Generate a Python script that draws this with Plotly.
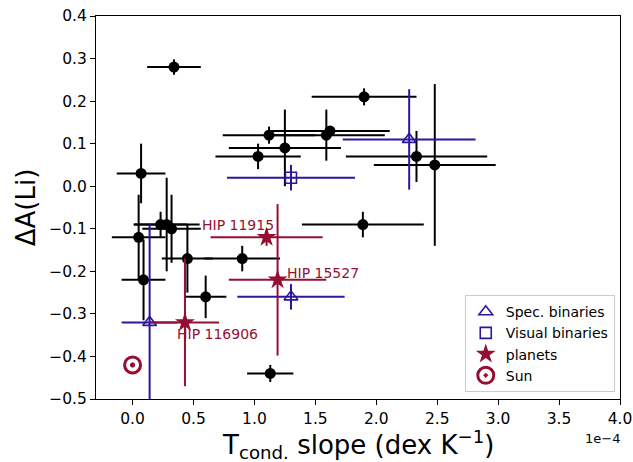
import plotly.graph_objects as go

# Condensation-temperature slopes in units of 1e-4 dex/K, lithium differences in dex
field_slope = [0.34, 0.07, 1.12, 1.25, 1.03, 1.59, 1.62, 1.90, 2.33, 2.48, 1.89,
               0.05, 0.09, 0.23, 0.28, 0.32, 0.45, 0.90, 0.60, 1.13]
field_slope_err = [0.22, 0.20, 0.38, 0.46, 0.35, 0.48, 0.49, 0.43, 0.58, 0.50, 0.50,
                   0.22, 0.18, 0.22, 0.27, 0.24, 0.21, 0.31, 0.17, 0.19]
field_dli = [0.28, 0.03, 0.12, 0.09, 0.07, 0.12, 0.13, 0.21, 0.07, 0.05, -0.09,
             -0.12, -0.22, -0.09, -0.09, -0.10, -0.17, -0.17, -0.26, -0.44]
field_dli_err = [0.018, 0.07, 0.02, 0.09, 0.03, 0.06, 0.01, 0.02, 0.06, 0.19, 0.03,
                 0.10, 0.095, 0.03, 0.11, 0.08, 0.08, 0.03, 0.05, 0.02]

sb_slope = [2.27, 1.30, 0.14]
sb_slope_err = [0.545, 0.44, 0.23]
sb_dli = [0.11, -0.26, -0.32]
sb_dli_err = [0.118, 0.03, 0.23]

vb_slope = [1.30]
vb_slope_err = [0.525]
vb_dli = [0.02]
vb_dli_err = [0.03]

planet_names = ["HIP 11915", "HIP 15527", "HIP 116906"]
planet_slope = [1.10, 1.19, 0.43]
planet_slope_err = [0.46, 0.40, 0.28]
planet_dli = [-0.12, -0.22, -0.32]
planet_dli_err = [0.02, 0.178, 0.15]

sun_slope = [0.0]
sun_dli = [-0.42]

x_ticks = [0.0, 0.5, 1.0, 1.5, 2.0, 2.5, 3.0, 3.5, 4.0]
y_ticks = [-0.5, -0.4, -0.3, -0.2, -0.1, 0.0, 0.1, 0.2, 0.3, 0.4]

BLUE = "#2c179c"
RED = "#960f32"
FONT = "DejaVu Sans"

def errs(vals, color):
    return dict(type="data", array=vals, color=color, thickness=2, width=0)

fig = go.Figure()

fig.add_trace(go.Scatter(
    x=field_slope, y=field_dli, mode="markers", showlegend=False,
    marker=dict(symbol="circle", size=11, color="black"),
    error_x=errs(field_slope_err, "black"), error_y=errs(field_dli_err, "black"),
))

fig.add_trace(go.Scatter(
    x=sb_slope, y=sb_dli, mode="markers", name="Spec. binaries",
    marker=dict(symbol="triangle-up-open", size=12, color=BLUE, line=dict(width=1.6, color=BLUE)),
    error_x=errs(sb_slope_err, BLUE), error_y=errs(sb_dli_err, BLUE),
))

fig.add_trace(go.Scatter(
    x=vb_slope, y=vb_dli, mode="markers", name="Visual binaries",
    marker=dict(symbol="square-open", size=11, color=BLUE, line=dict(width=1.6, color=BLUE)),
    error_x=errs(vb_slope_err, BLUE), error_y=errs(vb_dli_err, BLUE),
))

fig.add_trace(go.Scatter(
    x=planet_slope, y=planet_dli, mode="markers", name="planets",
    marker=dict(symbol="star", size=15, color=RED, line=dict(width=0)),
    error_x=errs(planet_slope_err, RED), error_y=errs(planet_dli_err, RED),
))

# solar symbol: ring plus a filled centre
fig.add_trace(go.Scatter(
    x=sun_slope, y=sun_dli, mode="markers", name="Sun",
    marker=dict(symbol="circle-open-dot", size=16, color=RED, line=dict(width=3, color=RED)),
))
fig.add_trace(go.Scatter(
    x=sun_slope, y=sun_dli, mode="markers", showlegend=False, hoverinfo="skip",
    marker=dict(symbol="circle", size=5, color=RED),
))

# planet host labels
label_offsets = [("right", "middle", 9, 12), ("left", "middle", 7, 7), ("left", "middle", -10, -12)]
for name, px, py, (xa, ya, dx, dy) in zip(planet_names, planet_slope, planet_dli, label_offsets):
    fig.add_annotation(x=px, y=py, text=name, showarrow=False, xanchor=xa, yanchor=ya,
                       xshift=dx, yshift=dy, font=dict(family=FONT, size=14, color=RED))

# scale factor for the x axis
fig.add_annotation(x=1.004, y=-0.103, xref="paper", yref="paper", text="1e\u22124", showarrow=False,
                   xanchor="right", yanchor="middle", font=dict(family=FONT, size=13, color="black"))

# x-axis title, placed below the tick labels
fig.add_annotation(x=0.5, y=-0.066, xref="paper", yref="paper",
                   text="T<sub>cond.</sub> slope (dex K<sup>\u22121</sup>)", showarrow=False,
                   xanchor="center", yanchor="top", font=dict(family=FONT, size=26, color="black"))

axis_common = dict(
    showline=True, linecolor="black", linewidth=1, mirror=True,
    ticks="outside", ticklen=5, tickwidth=1, tickcolor="black",
    showgrid=False, zeroline=False, tickformat=".1f", ticklabeloverflow="allow",
    automargin=False,
    tickfont=dict(family=FONT, size=15.5, color="black"),
)

fig.update_xaxes(range=[-0.3, 4.0], tickvals=x_ticks, **axis_common)
fig.update_yaxes(range=[-0.5, 0.4], tickvals=y_ticks, **axis_common,
                 title=dict(text="\u0394A(Li)", font=dict(family=FONT, size=26, color="black"),
                            standoff=6))

fig.update_layout(
    width=633, height=462,
    margin=dict(l=96, r=13, t=16, b=63, autoexpand=False),
    paper_bgcolor="white", plot_bgcolor="white",
    font=dict(family=FONT, color="black"),
    legend=dict(x=0.99, y=0.018, xanchor="right", yanchor="bottom",
                bgcolor="rgba(255,255,255,0.8)", bordercolor="#cccccc", borderwidth=1,
                font=dict(family=FONT, size=14, color="black")),
)

fig.write_html("out.html")
